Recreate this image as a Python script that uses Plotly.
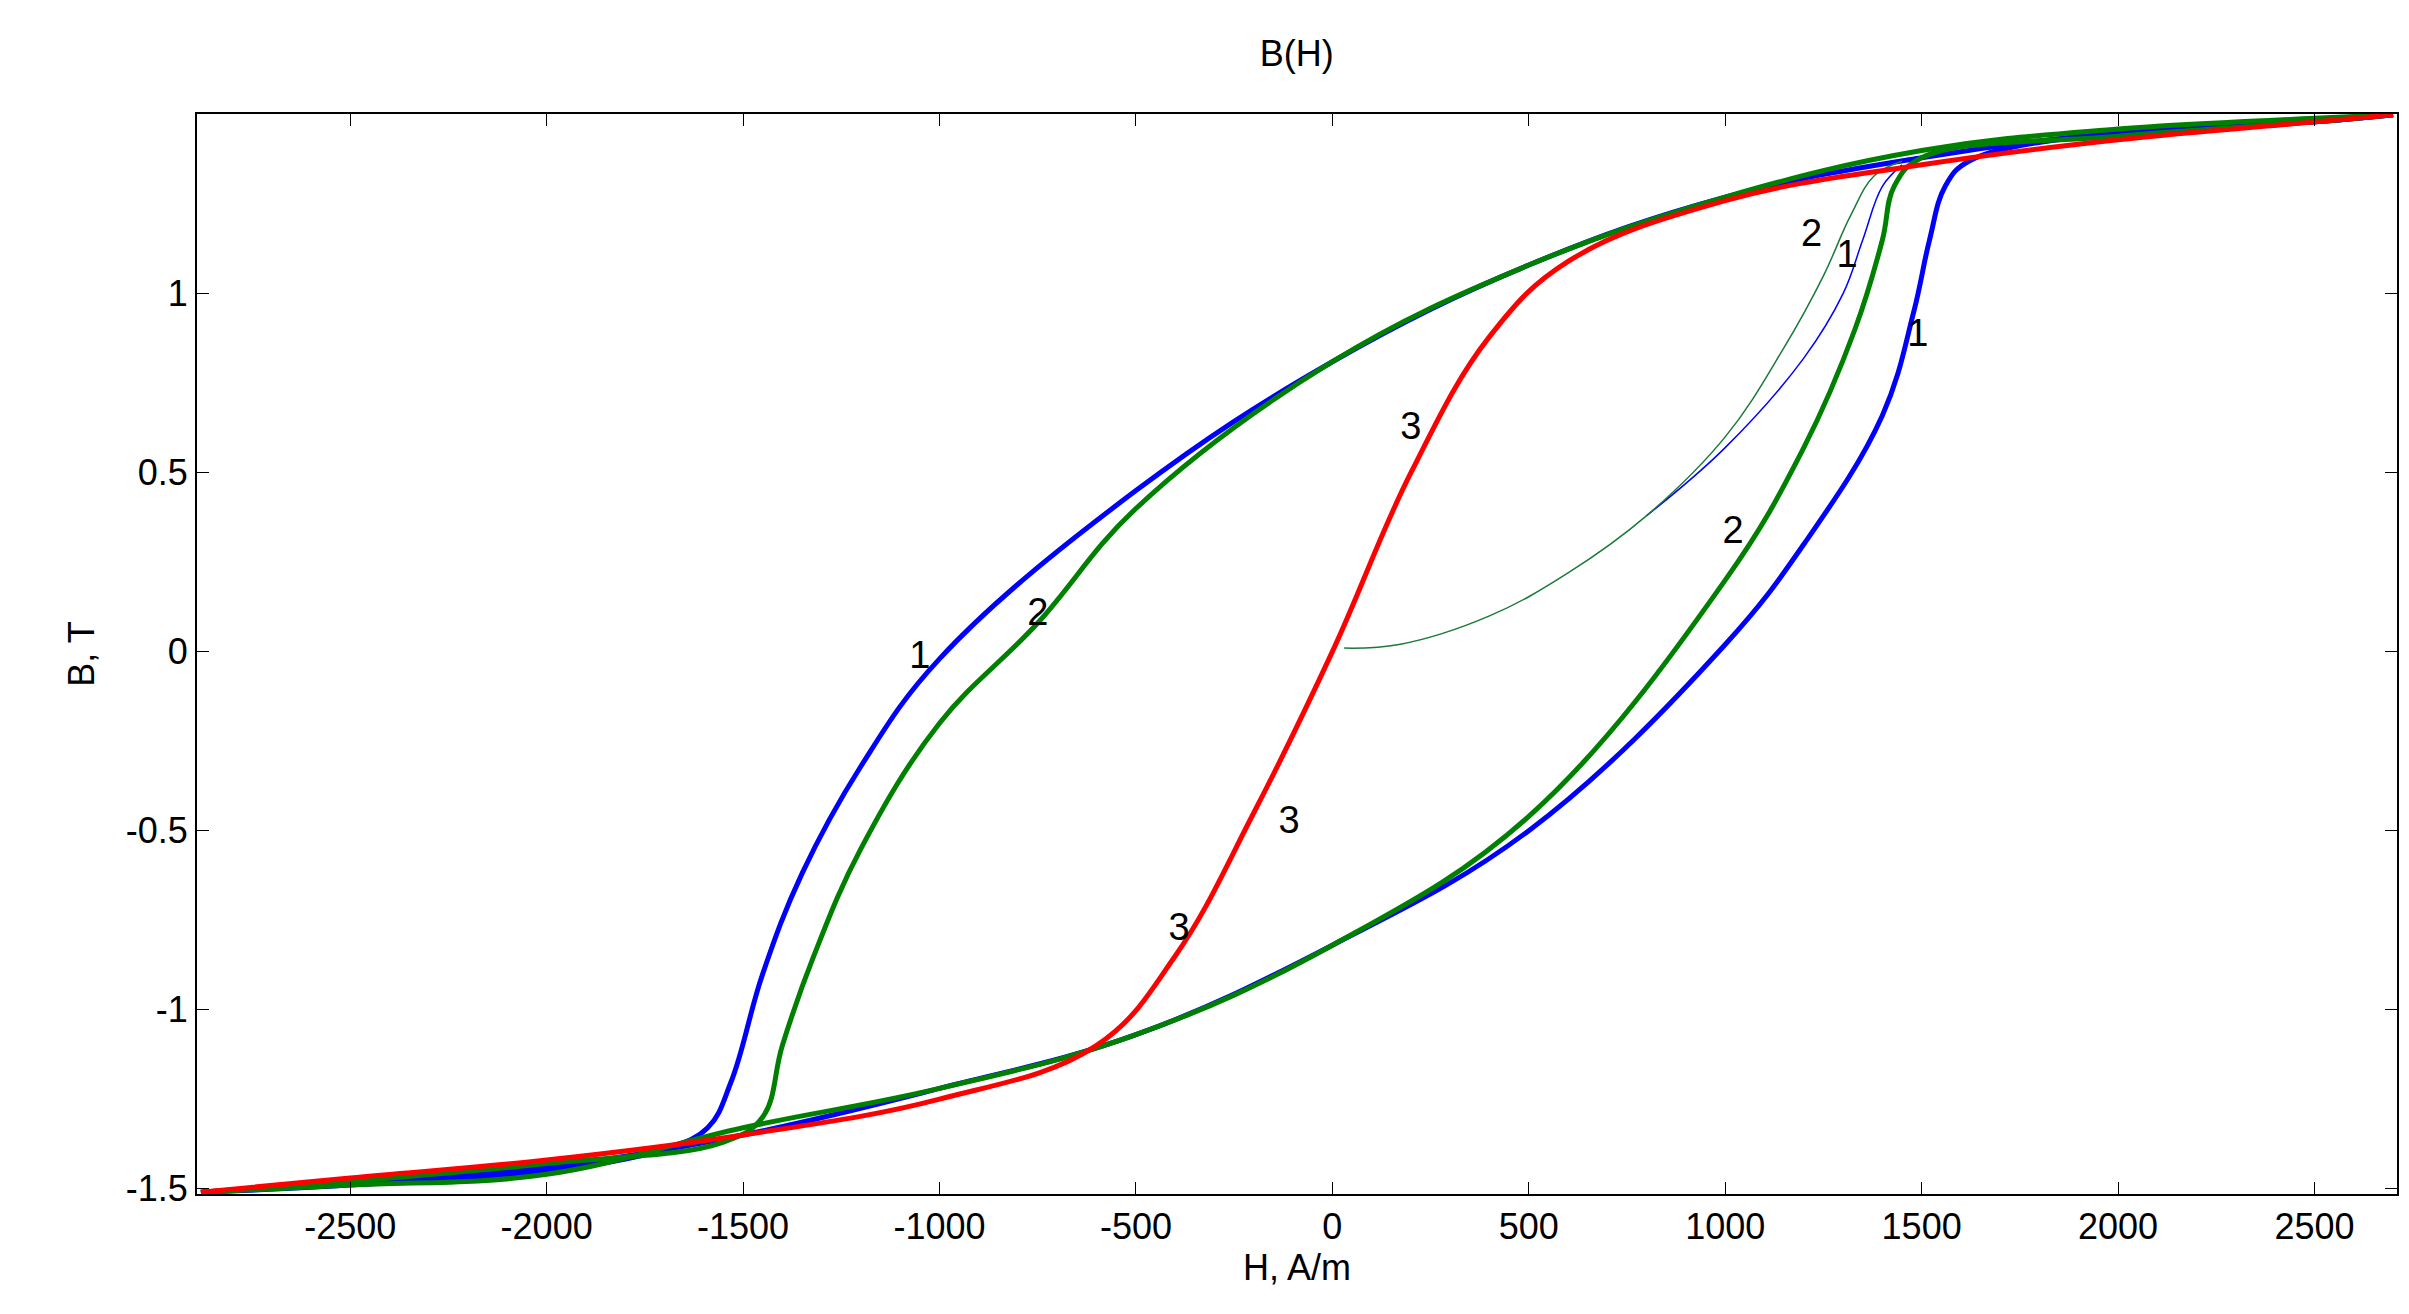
import plotly.graph_objects as go

# curva 1 (azul) - ramo descendente e ascendente
h1_down = [2700, 2500, 2000, 1500, 1000, 500, 0, -500, -1000, -1200, -1350, -1450, -1530, -1590, -1700, -2000, -2500, -2880]
b1_down = [1.50, 1.48, 1.45, 1.38, 1.27, 1.08, 0.81, 0.45, -0.02, -0.32, -0.62, -0.90, -1.20, -1.33, -1.39, -1.45, -1.49, -1.51]
h1_up = [-2880, -2500, -2000, -1500, -1000, -500, 0, 500, 1000, 1200, 1400, 1480, 1520, 1560, 1620, 2000, 2500, 2700]
b1_up = [-1.51, -1.48, -1.44, -1.35, -1.22, -1.07, -0.82, -0.50, 0.02, 0.30, 0.66, 0.95, 1.15, 1.30, 1.37, 1.45, 1.48, 1.50]

# curva 2 (verde)
h2_down = [2700, 2500, 2000, 1500, 1000, 500, 0, -500, -750, -1000, -1200, -1320, -1400, -1450, -1550, -2000, -2500, -2880]
b2_down = [1.50, 1.49, 1.46, 1.40, 1.27, 1.08, 0.81, 0.40, 0.08, -0.20, -0.55, -0.85, -1.10, -1.30, -1.37, -1.43, -1.48, -1.51]
h2_up = [-2880, -2500, -2000, -1500, -1000, -500, 0, 500, 1000, 1200, 1330, 1400, 1430, 1500, 2000, 2500, 2700]
b2_up = [-1.51, -1.49, -1.46, -1.33, -1.22, -1.07, -0.82, -0.46, 0.20, 0.57, 0.90, 1.15, 1.30, 1.38, 1.44, 1.48, 1.50]

# curva 3 (vermelho)
h3 = [-2880, -2500, -2000, -1500, -1000, -600, -400, -200, 0, 200, 400, 600, 1000, 1500, 2000, 2500, 2700]
b3 = [-1.51, -1.47, -1.42, -1.35, -1.25, -1.10, -0.85, -0.45, 0.0, 0.50, 0.88, 1.09, 1.26, 1.36, 1.43, 1.48, 1.50]

# curvas iniciais (finas)
h2_ini = [30, 170, 400, 600, 800, 1000, 1150, 1250, 1320, 1380, 1450]
b2_ini = [0.01, 0.02, 0.10, 0.22, 0.38, 0.60, 0.85, 1.05, 1.22, 1.33, 1.37]
h1_ini = [800, 1000, 1200, 1300, 1350, 1400, 1450]
b1_ini = [0.38, 0.57, 0.82, 1.00, 1.15, 1.30, 1.36]

lbl_txt = ["1", "2", "3", "3", "3", "2", "1", "2", "1"]
lbl_h = [-1050, -750, 200, -110, -390, 1020, 1490, 1220, 1310]
lbl_b = [-0.02, 0.10, 0.62, -0.48, -0.78, 0.33, 0.88, 1.16, 1.10]

x_ticks = [-2500, -2000, -1500, -1000, -500, 0, 500, 1000, 1500, 2000, 2500]
y_ticks = [-1.5, -1, -0.5, 0, 0.5, 1]

fig = go.Figure()
for hx, bx, cor, lw in [
    (h1_down, b1_down, "blue", 5), (h1_up, b1_up, "blue", 5),
    (h2_down, b2_down, "green", 5), (h2_up, b2_up, "green", 5),
    (h1_ini, b1_ini, "blue", 1.5), (h2_ini, b2_ini, "#1a7a3a", 1.5),
    (h3, b3, "red", 5),
]:
    fig.add_trace(go.Scatter(x=hx, y=bx, mode="lines", line=dict(color=cor, width=lw, shape="spline", smoothing=1.1)))

fig.add_trace(go.Scatter(x=lbl_h, y=lbl_b, mode="text", text=lbl_txt,
                         textfont=dict(size=38, color="black")))

eixo = dict(showgrid=False, zeroline=False, showline=True, linecolor="black", linewidth=2,
            mirror="ticks", ticks="inside", ticklen=12, tickcolor="black",
            tickfont=dict(size=36, color="black"))
fig.update_layout(
    title=dict(text="B(H)", x=0.535, y=0.975, font=dict(size=36, color="black")),
    xaxis=dict(eixo, range=[-2890, 2710], tickvals=x_ticks, ticktext=[str(v) for v in x_ticks],
               title=dict(text="H, A/m", font=dict(size=36), standoff=5)),
    yaxis=dict(eixo, range=[-1.515, 1.502], tickvals=y_ticks, ticktext=[f"{v:g}" for v in y_ticks],
               title=dict(text="B, T", font=dict(size=36), standoff=20)),
    font=dict(family="Liberation Sans, Arial", color="black"),
    showlegend=False,
    plot_bgcolor="white",
    paper_bgcolor="white",
    margin=dict(l=189, r=20, t=106, b=128),
    width=2409,
    height=1314,
)

fig.write_html("out.html")
